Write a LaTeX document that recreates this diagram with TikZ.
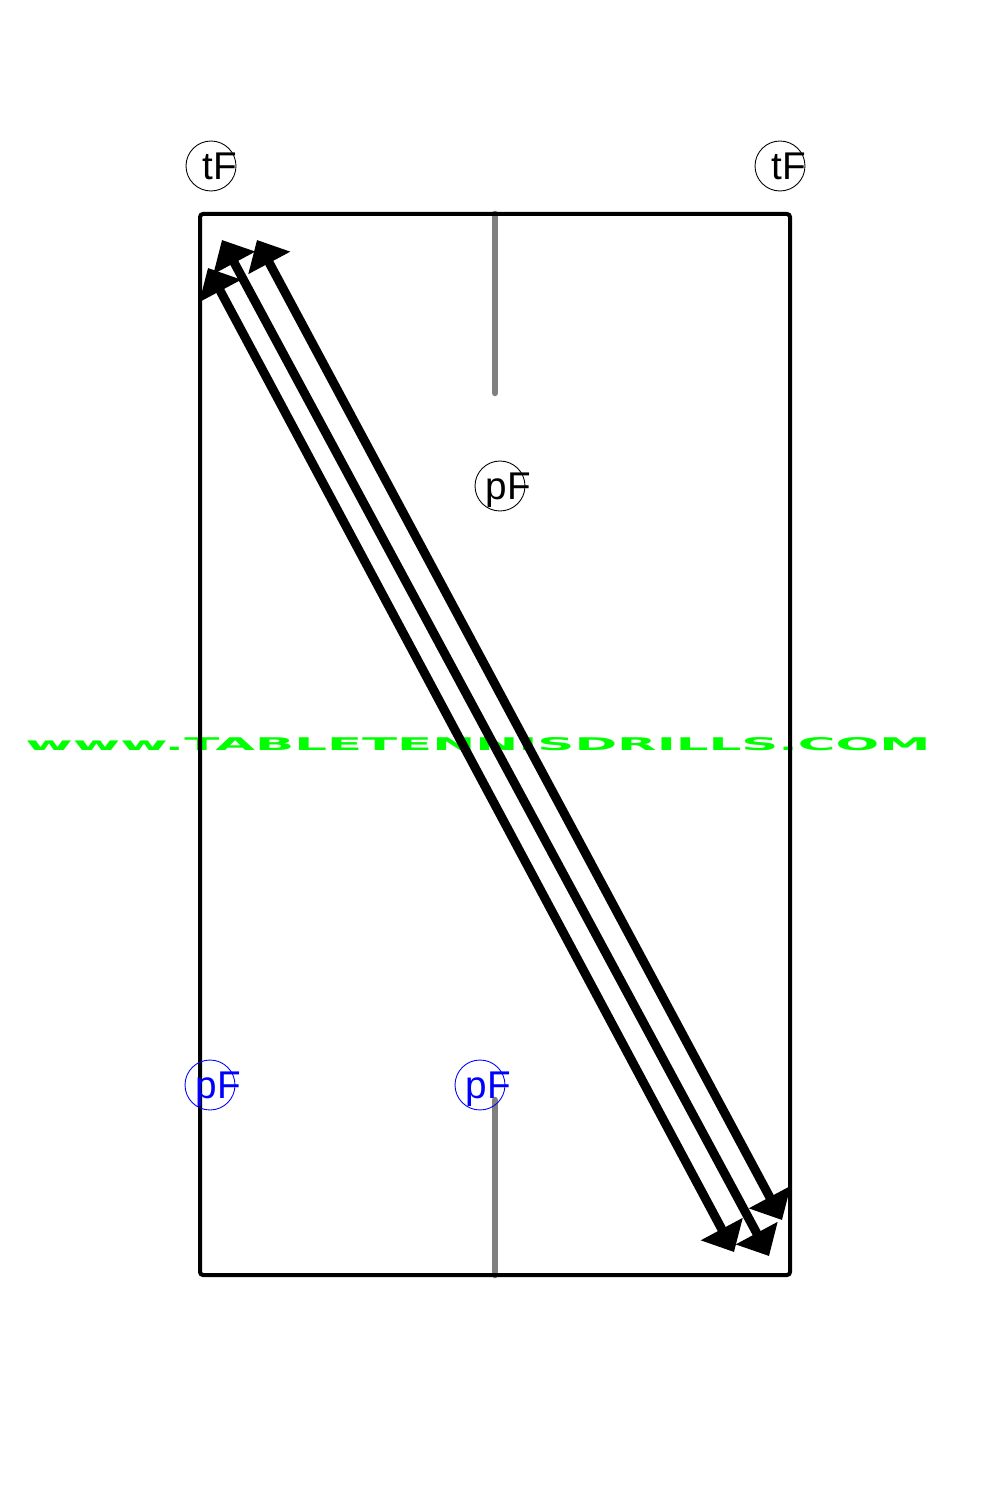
\documentclass[tikz,border=0pt]{standalone}
\usepackage{fontspec}
\setmainfont{Liberation Sans}
\newfontfamily\webfont{DejaVu Sans}
\usetikzlibrary{arrows.meta}
\tikzset{
  ring/.style={circle, draw, line width=0.5pt, minimum size=1cm, inner sep=0pt},
  tag/.style={font=\fontsize{22}{22}\selectfont, text depth=0pt, inner sep=0pt, anchor=west, xshift=0.17cm},
  shot/.style={{Triangle[length=0.52cm,width=0.92cm]}-{Triangle[length=0.52cm,width=0.92cm]}, line width=0.18cm},
}
\begin{document}
\begin{tikzpicture}[x=0.02cm, y=-0.02cm]
\useasboundingbox (0,0) rectangle (1000,1500);

% Marca de agua
\node[text=green, inner sep=0pt] (web) at (478,744) {\resizebox{18.1cm}{0.26cm}{\webfont\bfseries www.TABLETENNISDRILLS.COM}};

% Linea central
\draw[gray, line width=0.13cm, line cap=round] (495,214) -- (495,393);
\draw[gray, line width=0.13cm, line cap=round] (495,1100) -- (495,1275);

% Mesa
\draw[line width=0.08cm, rounded corners=0.06cm] (200,214) rectangle (790,1275);

% Jugadores
\node[ring, label={[tag]center:tF}] (tfl) at (211,166) {};
\node[ring, label={[tag]center:tF}] (tfr) at (780,166) {};
\node[ring, label={[tag]center:pF}] (pft) at (500,486) {};
\node[ring, blue, label={[tag, text=blue]center:pF}] (pfl) at (210,1085) {};
\node[ring, blue, label={[tag, text=blue]center:pF}] (pfm) at (480,1085) {};

% Golpes
\coordinate (a1) at (208,268);
\coordinate (b1) at (734,1252);
\coordinate (a2) at (222,240);
\coordinate (b2) at (769,1256);
\coordinate (a3) at (257,240);
\coordinate (b3) at (782,1220);
\draw[shot] (a1) -- (b1);
\draw[shot] (a2) -- (b2);
\draw[shot] (a3) -- (b3);
\end{tikzpicture}
\end{document}
